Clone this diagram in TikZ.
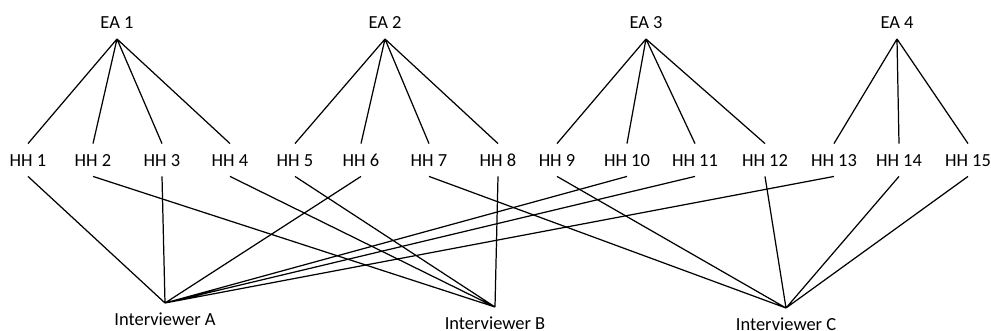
\documentclass[tikz,border=0pt]{standalone}
\usepackage{fontspec}
\setmainfont{Carlito}
\usepackage{tikz}

\begin{document}
\begin{tikzpicture}[x=0.02cm,y=-0.02cm,line width=0.7pt,
  lbl/.style={font=\fontsize{10.5}{12}\selectfont,inner xsep=0pt,inner ysep=5.5pt,text height=7pt,text depth=0pt}]
  \useasboundingbox (0,0) rectangle (991,331);
  % enumeration areas
  \node[lbl,anchor=south] (ea1) at (117,39) {EA 1};
  \node[lbl,anchor=south] (ea2) at (385,39) {EA 2};
  \node[lbl,anchor=south] (ea3) at (646,39) {EA 3};
  \node[lbl,anchor=south] (ea4) at (897,39) {EA 4};
  % households
  \node[lbl] (hh1) at (28,160) {HH 1};
  \node[lbl] (hh2) at (93,160) {HH 2};
  \node[lbl] (hh3) at (162,160) {HH 3};
  \node[lbl] (hh4) at (230,160) {HH 4};
  \node[lbl] (hh5) at (295,160) {HH 5};
  \node[lbl] (hh6) at (361,160) {HH 6};
  \node[lbl] (hh7) at (429,160) {HH 7};
  \node[lbl] (hh8) at (498,160) {HH 8};
  \node[lbl] (hh9) at (557,160) {HH 9};
  \node[lbl] (hh10) at (627,160) {HH 10};
  \node[lbl] (hh11) at (695,160) {HH 11};
  \node[lbl] (hh12) at (765,160) {HH 12};
  \node[lbl] (hh13) at (834,160) {HH 13};
  \node[lbl] (hh14) at (899,160) {HH 14};
  \node[lbl] (hh15) at (968,160) {HH 15};
  % interviewers
  \node[lbl,anchor=north] (intA) at (165,303) {Interviewer A};
  \node[lbl,anchor=north] (intB) at (495,307) {Interviewer B};
  \node[lbl,anchor=north] (intC) at (786,308) {Interviewer C};

  \draw (ea1.south) -- (hh1.north) (ea1.south) -- (hh2.north)
        (ea1.south) -- (hh3.north) (ea1.south) -- (hh4.north);
  \draw (ea2.south) -- (hh5.north) (ea2.south) -- (hh6.north)
        (ea2.south) -- (hh7.north) (ea2.south) -- (hh8.north);
  \draw (ea3.south) -- (hh9.north) (ea3.south) -- (hh10.north)
        (ea3.south) -- (hh11.north) (ea3.south) -- (hh12.north);
  \draw (ea4.south) -- (hh13.north) (ea4.south) -- (hh14.north)
        (ea4.south) -- (hh15.north);

  \draw (hh1.south) -- (intA.north) (hh3.south) -- (intA.north)
        (hh6.south) -- (intA.north) (hh10.south) -- (intA.north)
        (hh11.south) -- (intA.north) (hh13.south) -- (intA.north);
  \draw (hh2.south) -- (intB.north) (hh4.south) -- (intB.north)
        (hh5.south) -- (intB.north) (hh8.south) -- (intB.north);
  \draw (hh7.south) -- (intC.north) (hh9.south) -- (intC.north)
        (hh12.south) -- (intC.north) (hh14.south) -- (intC.north)
        (hh15.south) -- (intC.north);
\end{tikzpicture}
\end{document}
